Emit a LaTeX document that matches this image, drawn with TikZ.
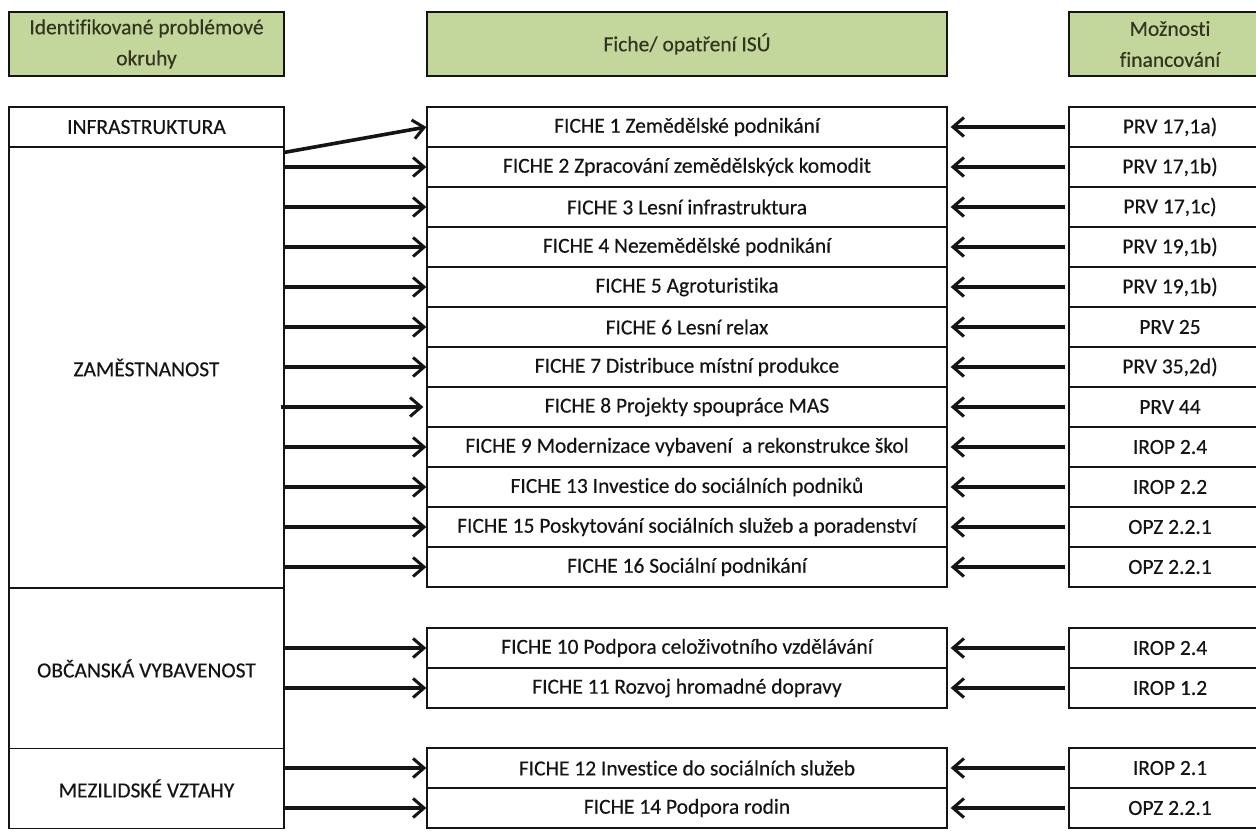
\documentclass[tikz,border=0pt]{standalone}
\usepackage{fontspec}
\setmainfont{Carlito}[FakeBold=0.3, Ligatures=NoCommon]
\usetikzlibrary{arrows.meta,positioning}
\definecolor{ink}{HTML}{141414}
\definecolor{headfill}{HTML}{C3D69B}
\definecolor{headink}{HTML}{33331F}
\tikzset{
  cell/.style={draw=ink, line width=1.3pt, fill=white, inner sep=0pt, align=center, font=\fontsize{21.5}{31}\selectfont, text=ink},
  topicbox/.style={cell, minimum width=275pt},
  fichebox/.style={cell, minimum width=520pt, minimum height=40pt},
  fundbox/.style={cell, minimum width=202pt, minimum height=40pt},
  headbox/.style={cell, fill=headfill, text=headink, minimum height=64pt},
  arrow/.style={-{Straight Barb[length=11pt,width=19pt,line width=3pt]}, line width=3.6pt, draw=ink}
}

\begin{document}
\begin{tikzpicture}[x=1pt,y=-1pt]
\useasboundingbox[fill=white] (0,0) rectangle (1256,838);
% headers
\node[headbox, minimum width=275pt] (hleft) at (146.5,44) {Identifikované problémové\\okruhy};
\node[headbox, minimum width=520pt] (hmid) at (687,44) {Fiche/ opatření ISÚ};
\node[headbox, minimum width=202pt] (hright) at (1170,44) {Možnosti\\financování};
% problem areas
\node[topicbox, minimum height=40pt] (infra) at (146.5,127) {INFRASTRUKTURA};
\node[topicbox, minimum height=441pt] (zam) at (146.5,367.5) {ZAMĚSTNANOST};
\node[topicbox, minimum height=160pt] (obc) at (146.5,668.5) {OBČANSKÁ VYBAVENOST};
\node[topicbox, minimum height=80pt] (mez) at (146.5,788.5) {MEZILIDSKÉ VZTAHY};
% fiches
\node[fichebox] (f1) at (687,127) {FICHE 1 Zemědělské podnikání};
\node[fichebox] (f2) at (687,167) {FICHE 2 Zpracování zemědělskýck komodit};
\node[fichebox] (f3) at (687,207) {FICHE 3 Lesní infrastruktura};
\node[fichebox] (f4) at (687,247) {FICHE 4 Nezemědělské podnikání};
\node[fichebox] (f5) at (687,287) {FICHE 5 Agroturistika};
\node[fichebox] (f6) at (687,327) {FICHE 6 Lesní relax};
\node[fichebox] (f7) at (687,367) {FICHE 7 Distribuce místní produkce};
\node[fichebox] (f8) at (687,407) {FICHE 8 Projekty spoupráce MAS};
\node[fichebox] (f9) at (687,447) {FICHE 9 Modernizace vybavení~ a rekonstrukce škol};
\node[fichebox] (f13) at (687,487) {FICHE 13 Investice do sociálních podniků};
\node[fichebox] (f15) at (687,527) {FICHE 15 Poskytování sociálních služeb a poradenství};
\node[fichebox] (f16) at (687,567) {FICHE 16 Sociální podnikání};
\node[fichebox] (f10) at (687,648) {FICHE 10 Podpora celoživotního vzdělávání};
\node[fichebox] (f11) at (687,688) {FICHE 11 Rozvoj hromadné dopravy};
\node[fichebox] (f12) at (687,768) {FICHE 12 Investice do sociálních služeb};
\node[fichebox] (f14) at (687,808) {FICHE 14 Podpora rodin};
% funding
\node[fundbox] (p1) at (1170,127) {PRV 17,1a)};
\node[fundbox] (p2) at (1170,167) {PRV 17,1b)};
\node[fundbox] (p3) at (1170,207) {PRV 17,1c)};
\node[fundbox] (p4) at (1170,247) {PRV 19,1b)};
\node[fundbox] (p5) at (1170,287) {PRV 19,1b)};
\node[fundbox] (p6) at (1170,327) {PRV 25};
\node[fundbox] (p7) at (1170,367) {PRV 35,2d)};
\node[fundbox] (p8) at (1170,407) {PRV 44};
\node[fundbox] (p9) at (1170,447) {IROP 2.4};
\node[fundbox] (p13) at (1170,487) {IROP 2.2};
\node[fundbox] (p15) at (1170,527) {OPZ 2.2.1};
\node[fundbox] (p16) at (1170,567) {OPZ 2.2.1};
\node[fundbox] (p10) at (1170,648) {IROP 2.4};
\node[fundbox] (p11) at (1170,688) {IROP 1.2};
\node[fundbox] (p12) at (1170,768) {IROP 2.1};
\node[fundbox] (p14) at (1170,808) {OPZ 2.2.1};
% arrows from problem areas
\coordinate (zs) at ([yshift=-6pt]zam.north east);
\draw[arrow] (zs) -- (f1.west);
\draw[arrow] (zam.east |- f2.west) -- (f2.west);
\draw[arrow] (zam.east |- f3.west) -- (f3.west);
\draw[arrow] (zam.east |- f4.west) -- (f4.west);
\draw[arrow] (zam.east |- f5.west) -- (f5.west);
\draw[arrow] (zam.east |- f6.west) -- (f6.west);
\draw[arrow] (zam.east |- f7.west) -- (f7.west);
\draw[arrow] ([xshift=-4pt]zam.east |- f8.west) -- ([xshift=-3pt]f8.west);
\draw[arrow] (zam.east |- f9.west) -- (f9.west);
\draw[arrow] (zam.east |- f13.west) -- (f13.west);
\draw[arrow] (zam.east |- f15.west) -- (f15.west);
\draw[arrow] (zam.east |- f16.west) -- (f16.west);
\draw[arrow] (obc.east |- f10.west) -- (f10.west);
\draw[arrow] (obc.east |- f11.west) -- (f11.west);
\draw[arrow] (mez.east |- f12.west) -- (f12.west);
\draw[arrow] (mez.east |- f14.west) -- (f14.west);
% arrows from funding
\draw[arrow, shorten <=3pt] (p1.west) -- ([xshift=3pt]f1.east);
\draw[arrow, shorten <=3pt] (p2.west) -- ([xshift=3pt]f2.east);
\draw[arrow, shorten <=3pt] (p3.west) -- ([xshift=3pt]f3.east);
\draw[arrow, shorten <=3pt] (p4.west) -- ([xshift=3pt]f4.east);
\draw[arrow, shorten <=3pt] (p5.west) -- ([xshift=3pt]f5.east);
\draw[arrow, shorten <=3pt] (p6.west) -- ([xshift=3pt]f6.east);
\draw[arrow, shorten <=3pt] (p7.west) -- ([xshift=3pt]f7.east);
\draw[arrow, shorten <=3pt] (p8.west) -- ([xshift=3pt]f8.east);
\draw[arrow, shorten <=3pt] (p9.west) -- ([xshift=3pt]f9.east);
\draw[arrow, shorten <=3pt] (p13.west) -- ([xshift=3pt]f13.east);
\draw[arrow, shorten <=3pt] (p15.west) -- ([xshift=3pt]f15.east);
\draw[arrow, shorten <=3pt] (p16.west) -- ([xshift=3pt]f16.east);
\draw[arrow, shorten <=3pt] (p10.west) -- ([xshift=3pt]f10.east);
\draw[arrow, shorten <=3pt] (p11.west) -- ([xshift=3pt]f11.east);
\draw[arrow, shorten <=3pt] (p12.west) -- ([xshift=3pt]f12.east);
\draw[arrow, shorten <=3pt] (p14.west) -- ([xshift=3pt]f14.east);
\end{tikzpicture}
\end{document}
